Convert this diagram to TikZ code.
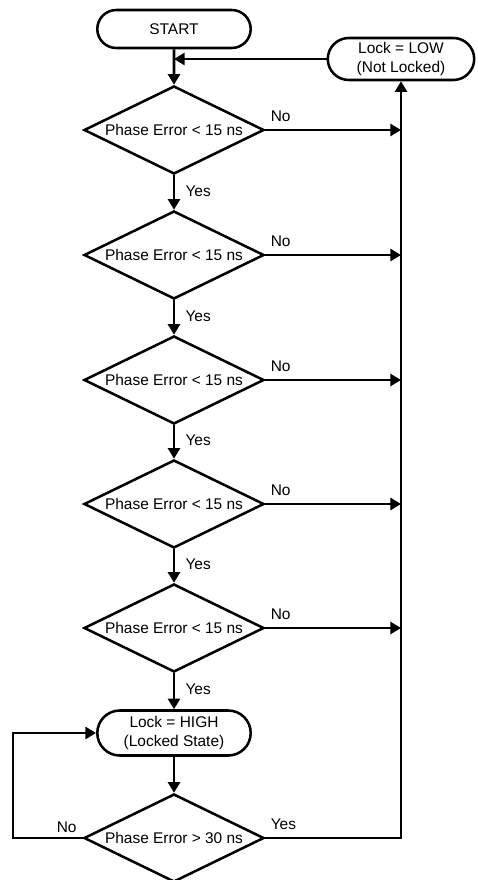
\documentclass[tikz,border=0pt]{standalone}
\usepackage{fontspec}
\setmainfont{Liberation Sans}
\usetikzlibrary{positioning,shapes.geometric,shapes.misc,arrows.meta}

\tikzset{
  decision/.style={draw, diamond, aspect=2, inner sep=0pt, line width=1.8pt,
    minimum width=4.5cm, minimum height=2.2cm},
  terminal/.style={draw, rounded rectangle, align=center, inner sep=2pt, line width=1.8pt},
  flow/.style={line width=1.8pt, -{Triangle[length=7.5pt,width=8.5pt]}},
  lbl/.style={inner sep=3pt}
}

\begin{document}
\begin{tikzpicture}[x=0.025cm, y=-0.025cm,
  every node/.style={font=\fontsize{11}{13.5}\selectfont}]
\useasboundingbox (0,0) rectangle (478,880);

\def\xc{174}
\def\xr{401}
\def\xl{13}

\def\ys{29}
\def\yh{733}
\def\yf{838}

% terminals
\node[terminal, minimum width=3.975cm, minimum height=0.95cm] (start) at (\xc, \ys) {START};
\node[terminal, minimum width=3.8cm, minimum height=1.05cm] (low) at (\xr, 59) {Lock = LOW\\(Not Locked)};
\node[terminal, minimum width=3.975cm, minimum height=1.125cm] (high) at (\xc, \yh) {Lock = HIGH\\(Locked State)};

% five checks
\foreach \i/\y in {1/130, 2/255, 3/380, 4/504, 5/628} {
  \node[decision] (d\i) at (\xc, \y) {Phase Error < 15 ns};
  \coordinate (r\i) at (\xr, \y);
  \draw[flow] (d\i.east) -- node[pos=0, above right, lbl, yshift=2pt] {No} (r\i);
}
\node[decision] (d6) at (\xc, \yf) {Phase Error > 30 ns};
\coordinate (lb) at (\xl, \yf);
\coordinate (rb) at (\xr, \yf);

% main column
\draw[flow] (start) -- (d1);
\draw[flow] (low.west) -- (low.west -| start);
\foreach \i/\j in {1/2, 2/3, 3/4, 4/5} {
  \draw[flow] (d\i.south) -- node[pos=0.45, right=4pt] {Yes} (d\j.north);
}
\draw[flow] (d5.south) -- node[pos=0.45, right=4pt] {Yes} (high.north);
\draw[flow] (high.south) -- (d6.north);

% lock loop
\draw[flow] (d6.west) -- node[pos=0.23, above, lbl] {No} (lb) |- (high.west);
\draw[flow] (d6.east) -- node[pos=0, above right, lbl, yshift=2pt] {Yes} (rb) -- (low.south);

\end{tikzpicture}
\end{document}
